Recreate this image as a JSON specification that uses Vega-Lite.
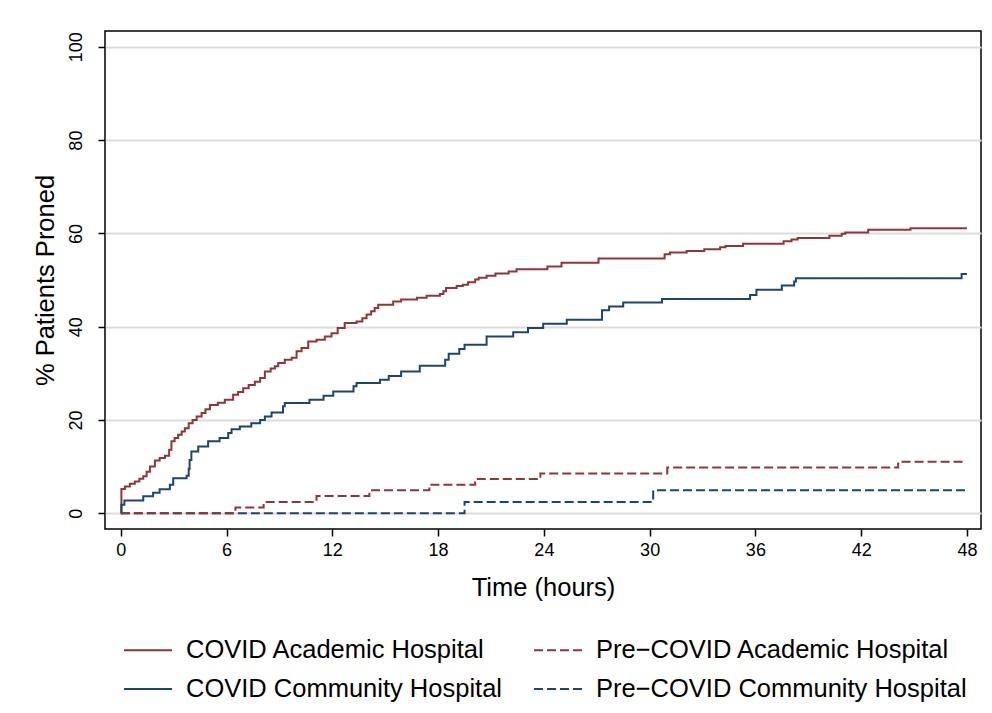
{
  "$schema": "https://vega.github.io/schema/vega-lite/v6.json",
  "width": 876,
  "height": 498,
  "autosize": "none",
  "padding": {"left": 105, "top": 31, "right": 11, "bottom": 184},
  "background": "white",
  "config": {
    "font": "Liberation Sans",
    "view": {"stroke": "black", "strokeWidth": 1.5}
  },
  "data": {
    "values": [
      {"series": "COVID Academic Hospital", "t": 0, "v": 0},
      {"series": "COVID Academic Hospital", "t": 0.03, "v": 5.2},
      {"series": "COVID Academic Hospital", "t": 0.23, "v": 5.7},
      {"series": "COVID Academic Hospital", "t": 0.51, "v": 6.3},
      {"series": "COVID Academic Hospital", "t": 0.79, "v": 6.8},
      {"series": "COVID Academic Hospital", "t": 1.05, "v": 7.4},
      {"series": "COVID Academic Hospital", "t": 1.27, "v": 7.9},
      {"series": "COVID Academic Hospital", "t": 1.46, "v": 8.9},
      {"series": "COVID Academic Hospital", "t": 1.65, "v": 10.0},
      {"series": "COVID Academic Hospital", "t": 1.93, "v": 11.3},
      {"series": "COVID Academic Hospital", "t": 2.2, "v": 11.8},
      {"series": "COVID Academic Hospital", "t": 2.5, "v": 12.3},
      {"series": "COVID Academic Hospital", "t": 2.74, "v": 13.6},
      {"series": "COVID Academic Hospital", "t": 2.87, "v": 15.4},
      {"series": "COVID Academic Hospital", "t": 3.05, "v": 16.1},
      {"series": "COVID Academic Hospital", "t": 3.25, "v": 16.8},
      {"series": "COVID Academic Hospital", "t": 3.45, "v": 17.5},
      {"series": "COVID Academic Hospital", "t": 3.63, "v": 18.2},
      {"series": "COVID Academic Hospital", "t": 3.85, "v": 19.3},
      {"series": "COVID Academic Hospital", "t": 4.07, "v": 20.0},
      {"series": "COVID Academic Hospital", "t": 4.3, "v": 20.7},
      {"series": "COVID Academic Hospital", "t": 4.58, "v": 21.5},
      {"series": "COVID Academic Hospital", "t": 4.8, "v": 22.3},
      {"series": "COVID Academic Hospital", "t": 5.05, "v": 23.2},
      {"series": "COVID Academic Hospital", "t": 5.5, "v": 23.7},
      {"series": "COVID Academic Hospital", "t": 5.9, "v": 24.3},
      {"series": "COVID Academic Hospital", "t": 6.37, "v": 25.4},
      {"series": "COVID Academic Hospital", "t": 6.65, "v": 26.0},
      {"series": "COVID Academic Hospital", "t": 6.94, "v": 26.8},
      {"series": "COVID Academic Hospital", "t": 7.25, "v": 27.5},
      {"series": "COVID Academic Hospital", "t": 7.6, "v": 28.2},
      {"series": "COVID Academic Hospital", "t": 7.9, "v": 29.0},
      {"series": "COVID Academic Hospital", "t": 8.17, "v": 30.4},
      {"series": "COVID Academic Hospital", "t": 8.5, "v": 31.0},
      {"series": "COVID Academic Hospital", "t": 8.74, "v": 31.5},
      {"series": "COVID Academic Hospital", "t": 8.93, "v": 32.2},
      {"series": "COVID Academic Hospital", "t": 9.3, "v": 32.9},
      {"series": "COVID Academic Hospital", "t": 9.69, "v": 33.3},
      {"series": "COVID Academic Hospital", "t": 9.97, "v": 34.7},
      {"series": "COVID Academic Hospital", "t": 10.25, "v": 35.4},
      {"series": "COVID Academic Hospital", "t": 10.63, "v": 36.8},
      {"series": "COVID Academic Hospital", "t": 11.1, "v": 37.2},
      {"series": "COVID Academic Hospital", "t": 11.57, "v": 37.9},
      {"series": "COVID Academic Hospital", "t": 11.95, "v": 38.6},
      {"series": "COVID Academic Hospital", "t": 12.3, "v": 39.7},
      {"series": "COVID Academic Hospital", "t": 12.7, "v": 40.8},
      {"series": "COVID Academic Hospital", "t": 13.37, "v": 41.1},
      {"series": "COVID Academic Hospital", "t": 13.7, "v": 41.8},
      {"series": "COVID Academic Hospital", "t": 13.94, "v": 42.6},
      {"series": "COVID Academic Hospital", "t": 14.2, "v": 43.3},
      {"series": "COVID Academic Hospital", "t": 14.4, "v": 44.0},
      {"series": "COVID Academic Hospital", "t": 14.6, "v": 44.7},
      {"series": "COVID Academic Hospital", "t": 15.45, "v": 45.4},
      {"series": "COVID Academic Hospital", "t": 15.9, "v": 45.8},
      {"series": "COVID Academic Hospital", "t": 16.8, "v": 46.2},
      {"series": "COVID Academic Hospital", "t": 17.35, "v": 46.6},
      {"series": "COVID Academic Hospital", "t": 18.1, "v": 47.0},
      {"series": "COVID Academic Hospital", "t": 18.3, "v": 47.6},
      {"series": "COVID Academic Hospital", "t": 18.45, "v": 48.3},
      {"series": "COVID Academic Hospital", "t": 19.05, "v": 48.7},
      {"series": "COVID Academic Hospital", "t": 19.4, "v": 49.0},
      {"series": "COVID Academic Hospital", "t": 19.7, "v": 49.5},
      {"series": "COVID Academic Hospital", "t": 20.1, "v": 50.1},
      {"series": "COVID Academic Hospital", "t": 20.3, "v": 50.5},
      {"series": "COVID Academic Hospital", "t": 20.75, "v": 50.9},
      {"series": "COVID Academic Hospital", "t": 21.25, "v": 51.4},
      {"series": "COVID Academic Hospital", "t": 22.0, "v": 51.8},
      {"series": "COVID Academic Hospital", "t": 22.45, "v": 52.3},
      {"series": "COVID Academic Hospital", "t": 24.2, "v": 52.9},
      {"series": "COVID Academic Hospital", "t": 25.0, "v": 53.7},
      {"series": "COVID Academic Hospital", "t": 27.1, "v": 54.6},
      {"series": "COVID Academic Hospital", "t": 30.85, "v": 55.5},
      {"series": "COVID Academic Hospital", "t": 31.15, "v": 55.9},
      {"series": "COVID Academic Hospital", "t": 32.1, "v": 56.2},
      {"series": "COVID Academic Hospital", "t": 33.1, "v": 56.6},
      {"series": "COVID Academic Hospital", "t": 34.0, "v": 57.0},
      {"series": "COVID Academic Hospital", "t": 34.3, "v": 57.3},
      {"series": "COVID Academic Hospital", "t": 35.3, "v": 57.8},
      {"series": "COVID Academic Hospital", "t": 37.6, "v": 58.3},
      {"series": "COVID Academic Hospital", "t": 38.05, "v": 58.7},
      {"series": "COVID Academic Hospital", "t": 38.4, "v": 59.0},
      {"series": "COVID Academic Hospital", "t": 40.2, "v": 59.5},
      {"series": "COVID Academic Hospital", "t": 40.9, "v": 59.9},
      {"series": "COVID Academic Hospital", "t": 41.1, "v": 60.2},
      {"series": "COVID Academic Hospital", "t": 42.4, "v": 60.8},
      {"series": "COVID Academic Hospital", "t": 44.8, "v": 61.1},
      {"series": "COVID Academic Hospital", "t": 48.0, "v": 61.1},
      {"series": "COVID Community Hospital", "t": 0, "v": 0},
      {"series": "COVID Community Hospital", "t": 0.03, "v": 1.8},
      {"series": "COVID Community Hospital", "t": 0.2, "v": 2.7},
      {"series": "COVID Community Hospital", "t": 1.27, "v": 3.6},
      {"series": "COVID Community Hospital", "t": 1.83, "v": 4.4},
      {"series": "COVID Community Hospital", "t": 2.2, "v": 5.1},
      {"series": "COVID Community Hospital", "t": 2.78, "v": 6.1},
      {"series": "COVID Community Hospital", "t": 2.97, "v": 7.5},
      {"series": "COVID Community Hospital", "t": 3.73, "v": 8.0},
      {"series": "COVID Community Hospital", "t": 3.85, "v": 9.5},
      {"series": "COVID Community Hospital", "t": 3.9, "v": 11.4},
      {"series": "COVID Community Hospital", "t": 4.0, "v": 13.2},
      {"series": "COVID Community Hospital", "t": 4.39, "v": 14.3},
      {"series": "COVID Community Hospital", "t": 4.95, "v": 15.4},
      {"series": "COVID Community Hospital", "t": 5.6, "v": 16.1},
      {"series": "COVID Community Hospital", "t": 6.09, "v": 17.2},
      {"series": "COVID Community Hospital", "t": 6.28, "v": 18.0},
      {"series": "COVID Community Hospital", "t": 6.75, "v": 18.6},
      {"series": "COVID Community Hospital", "t": 7.4, "v": 19.3},
      {"series": "COVID Community Hospital", "t": 7.9, "v": 20.0},
      {"series": "COVID Community Hospital", "t": 8.17, "v": 20.7},
      {"series": "COVID Community Hospital", "t": 8.55, "v": 21.6},
      {"series": "COVID Community Hospital", "t": 9.2, "v": 22.9},
      {"series": "COVID Community Hospital", "t": 9.3, "v": 23.6},
      {"series": "COVID Community Hospital", "t": 10.7, "v": 24.3},
      {"series": "COVID Community Hospital", "t": 11.5, "v": 25.2},
      {"series": "COVID Community Hospital", "t": 12.05, "v": 26.1},
      {"series": "COVID Community Hospital", "t": 13.2, "v": 27.2},
      {"series": "COVID Community Hospital", "t": 13.37, "v": 27.9},
      {"series": "COVID Community Hospital", "t": 14.7, "v": 28.6},
      {"series": "COVID Community Hospital", "t": 15.2, "v": 29.4},
      {"series": "COVID Community Hospital", "t": 15.9, "v": 30.4},
      {"series": "COVID Community Hospital", "t": 16.96, "v": 31.6},
      {"series": "COVID Community Hospital", "t": 18.4, "v": 32.9},
      {"series": "COVID Community Hospital", "t": 18.6, "v": 34.2},
      {"series": "COVID Community Hospital", "t": 19.2, "v": 35.2},
      {"series": "COVID Community Hospital", "t": 19.5, "v": 36.1},
      {"series": "COVID Community Hospital", "t": 20.75, "v": 37.9},
      {"series": "COVID Community Hospital", "t": 22.26, "v": 38.8},
      {"series": "COVID Community Hospital", "t": 23.1, "v": 39.7},
      {"series": "COVID Community Hospital", "t": 23.96, "v": 40.6},
      {"series": "COVID Community Hospital", "t": 25.3, "v": 41.5},
      {"series": "COVID Community Hospital", "t": 27.3, "v": 43.5},
      {"series": "COVID Community Hospital", "t": 27.7, "v": 44.3},
      {"series": "COVID Community Hospital", "t": 28.5, "v": 45.2},
      {"series": "COVID Community Hospital", "t": 30.7, "v": 45.9},
      {"series": "COVID Community Hospital", "t": 35.7, "v": 46.8},
      {"series": "COVID Community Hospital", "t": 36.06, "v": 47.9},
      {"series": "COVID Community Hospital", "t": 37.5, "v": 48.8},
      {"series": "COVID Community Hospital", "t": 38.2, "v": 49.7},
      {"series": "COVID Community Hospital", "t": 38.3, "v": 50.4},
      {"series": "COVID Community Hospital", "t": 47.7, "v": 51.3},
      {"series": "COVID Community Hospital", "t": 48.0, "v": 51.3},
      {"series": "Pre−COVID Community Hospital", "t": 0, "v": 0},
      {"series": "Pre−COVID Community Hospital", "t": 19.5, "v": 2.4},
      {"series": "Pre−COVID Community Hospital", "t": 30.2, "v": 4.9},
      {"series": "Pre−COVID Community Hospital", "t": 47.9, "v": 4.9},
      {"series": "Pre−COVID Academic Hospital", "t": 0, "v": 0},
      {"series": "Pre−COVID Academic Hospital", "t": 6.5, "v": 1.2},
      {"series": "Pre−COVID Academic Hospital", "t": 8.1, "v": 2.4},
      {"series": "Pre−COVID Academic Hospital", "t": 11.1, "v": 3.7},
      {"series": "Pre−COVID Academic Hospital", "t": 14.1, "v": 4.9},
      {"series": "Pre−COVID Academic Hospital", "t": 17.5, "v": 6.1},
      {"series": "Pre−COVID Academic Hospital", "t": 20.1, "v": 7.3},
      {"series": "Pre−COVID Academic Hospital", "t": 23.8, "v": 8.5},
      {"series": "Pre−COVID Academic Hospital", "t": 31.0, "v": 9.8},
      {"series": "Pre−COVID Academic Hospital", "t": 44.1, "v": 11.0},
      {"series": "Pre−COVID Academic Hospital", "t": 47.9, "v": 11.0}
    ]
  },
  "mark": {"type": "line", "interpolate": "step-after", "strokeWidth": 2, "clip": true},
  "encoding": {
    "x": {
      "field": "t",
      "type": "quantitative",
      "scale": {"domain": [-0.9, 48.8], "nice": false, "zero": false},
      "axis": {
        "values": [0, 6, 12, 18, 24, 30, 36, 42, 48],
        "title": "Time (hours)",
        "grid": false,
        "domain": false,
        "tickColor": "black",
        "tickSize": 7,
        "tickWidth": 1.5,
        "labelFontSize": 18,
        "labelColor": "black",
        "labelPadding": 5,
        "titleFontSize": 25.5,
        "titleFontWeight": "normal",
        "titleColor": "black",
        "titlePadding": 16
      }
    },
    "y": {
      "field": "v",
      "type": "quantitative",
      "scale": {"domain": [-3.4, 103.4], "nice": false, "zero": false},
      "axis": {
        "values": [0, 20, 40, 60, 80, 100],
        "title": "% Patients Proned",
        "grid": true,
        "gridColor": "#dcdcdc",
        "gridWidth": 1.8,
        "domain": false,
        "tickColor": "black",
        "tickSize": 7,
        "tickWidth": 1.5,
        "labelFontSize": 18,
        "labelColor": "black",
        "labelAngle": -90,
        "labelAlign": "center",
        "labelBaseline": "bottom",
        "labelPadding": 13,
        "titleFontSize": 25.5,
        "titleFontWeight": "normal",
        "titleColor": "black",
        "titlePadding": 9
      }
    },
    "color": {
      "field": "series",
      "type": "nominal",
      "scale": {
        "domain": ["COVID Academic Hospital", "Pre−COVID Academic Hospital", "COVID Community Hospital", "Pre−COVID Community Hospital"],
        "range": ["#90353B", "#90353B", "#1A476F", "#1A476F"]
      },
      "legend": {
        "title": null,
        "orient": "bottom",
        "direction": "horizontal",
        "columns": 2,
        "columnPadding": 28,
        "rowPadding": -5,
        "offset": 6,
        "padding": 18,
        "labelFontSize": 25.5,
        "labelColor": "black",
        "labelOffset": 13,
        "labelLimit": 400,
        "symbolType": "stroke",
        "symbolSize": 2304,
        "symbolStrokeWidth": 2
      }
    },
    "strokeDash": {
      "field": "series",
      "type": "nominal",
      "scale": {
        "domain": ["COVID Academic Hospital", "Pre−COVID Academic Hospital", "COVID Community Hospital", "Pre−COVID Community Hospital"],
        "range": [[1, 0], [9, 4], [1, 0], [9, 4]]
      }
    }
  }
}
